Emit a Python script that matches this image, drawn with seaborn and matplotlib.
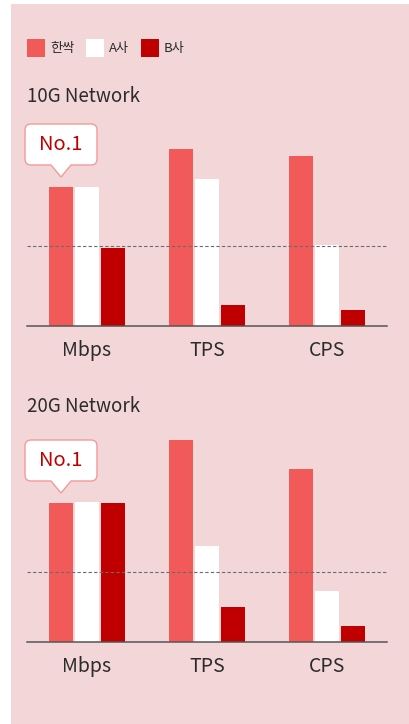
import matplotlib
matplotlib.use("Agg")
import matplotlib.pyplot as plt
import matplotlib.transforms as mtransforms
from matplotlib.patches import Rectangle, PathPatch
from matplotlib.path import Path
import pandas as pd
import seaborn as sns

# values (relative index, same scale for both panels)
metrics = ["Mbps", "TPS", "CPS"]
vendors = ["한싹", "A사", "B사"]

net10_hanssak = [139, 177, 170]
net10_a = [139, 147, 81]
net10_b = [78, 21, 16]
net10_ref = 80

net20_hanssak = [139, 202, 173]
net20_a = [140, 96, 51]
net20_b = [139, 35, 16]
net20_ref = 70

colors = ["#f25a5a", "#ffffff", "#c00000"]
PANEL = "#f3d7d8"
TEXT = "#2b2b2b"

W, H = 409, 724
sns.set_theme(style="white")
plt.rcParams["font.family"] = ["Noto Sans CJK KR", "DejaVu Sans"]


def make_df(h, a, b):
    rows = []
    for vals, vendor in zip([h, a, b], vendors):
        for m, v in zip(metrics, vals):
            rows.append({"metric": m, "vendor": vendor, "value": v})
    return pd.DataFrame(rows)


def px_axes(fig, left, top, right, bottom):
    return fig.add_axes([left / W, 1 - bottom / H, (right - left) / W, (bottom - top) / H])


def callout(ax, bar, dy_tip=10, dy_bot=22, dy_top=63, half=36, tri=10, r=6):
    x = bar.get_x() + bar.get_width() / 2
    y = bar.get_height()
    verts = [
        (0, dy_tip), (-tri, dy_bot), (-half + r, dy_bot),
        (-half, dy_bot), (-half, dy_bot + r),
        (-half, dy_top - r), (-half, dy_top), (-half + r, dy_top),
        (half - r, dy_top), (half, dy_top), (half, dy_top - r),
        (half, dy_bot + r), (half, dy_bot), (half - r, dy_bot),
        (tri, dy_bot), (0, dy_tip),
    ]
    codes = [Path.MOVETO, Path.LINETO, Path.LINETO,
             Path.CURVE3, Path.CURVE3, Path.LINETO,
             Path.CURVE3, Path.CURVE3, Path.LINETO,
             Path.CURVE3, Path.CURVE3, Path.LINETO,
             Path.CURVE3, Path.CURVE3, Path.LINETO, Path.CLOSEPOLY]
    tr = mtransforms.Affine2D() + mtransforms.ScaledTranslation(x, y, ax.transData)
    patch = PathPatch(Path(verts, codes), facecolor="white", edgecolor="#f29a9a",
                      lw=1, transform=tr, clip_on=False, zorder=5)
    ax.add_patch(patch)
    ttr = mtransforms.Affine2D() + mtransforms.ScaledTranslation(x, y, ax.transData)
    ax.text(0, (dy_bot + dy_top) / 2, "No.1", transform=ttr, ha="center", va="center",
            color="#c00000", fontsize=14.5, zorder=6)


def draw_panel(fig, top, bottom, title, h, a, b, ref):
    ax = px_axes(fig, 27, top, 387, bottom)
    df = make_df(h, a, b)
    sns.barplot(data=df, x="metric", y="value", hue="vendor", hue_order=vendors,
                palette=colors, width=0.65, gap=0.07, linewidth=0, saturation=1,
                errorbar=None, ax=ax)
    handles, labels = ax.get_legend_handles_labels()
    ax.get_legend().remove()
    ax.set_ylim(0, bottom - top)
    ax.set_xlim(-0.5, 2.5)
    ax.axhline(ref, color="#6b6b6b", lw=0.8, dashes=(3, 2), zorder=4)
    ax.set_facecolor("none")
    sns.despine(ax=ax, left=True)
    ax.spines["bottom"].set_color("#555555")
    ax.spines["bottom"].set_linewidth(1.1)
    ax.set_yticks([])
    ax.set_xlabel("")
    ax.set_ylabel("")
    ax.tick_params(axis="x", length=0, pad=10, labelsize=14, labelcolor=TEXT)
    fig.text(27 / W, 1 - (top - 22) / H, title, ha="left", va="center",
             fontsize=13.5, color=TEXT)
    callout(ax, ax.patches[0])
    return handles, labels


fig = plt.figure(figsize=(W / 100, H / 100), dpi=100)
fig.patch.set_facecolor("white")
fig.add_artist(Rectangle((11 / W, 0), 1 - 11 / W, 1 - 4 / H, transform=fig.transFigure,
                         facecolor=PANEL, edgecolor="none", zorder=-1))

handles, labels = draw_panel(fig, 118, 326, "10G Network",
                             net10_hanssak, net10_a, net10_b, net10_ref)
draw_panel(fig, 429, 642, "20G Network", net20_hanssak, net20_a, net20_b, net20_ref)

fig.legend(handles, labels, loc="center left", bbox_to_anchor=(27 / W, 1 - 48 / H),
           ncol=3, frameon=False, fontsize=9.5, handlelength=1.36, handleheight=1.72,
           handletextpad=0.38, columnspacing=0.9, borderpad=0, borderaxespad=0,
           labelcolor=TEXT)

fig.savefig("out.png", dpi=100)
